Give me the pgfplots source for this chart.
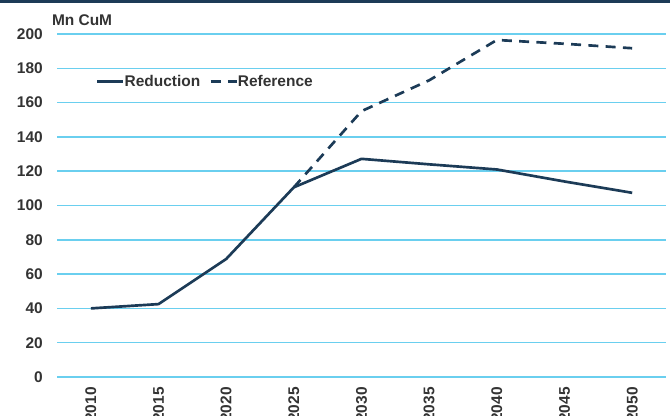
\documentclass[border=0pt]{standalone}
\usepackage{fontspec}
\setmainfont{Liberation Sans}
\usepackage{pgfplots}
\pgfplotsset{compat=1.18}
\definecolor{navy}{HTML}{1C3B57}
\definecolor{gridcyan}{HTML}{6ACFEF}
\definecolor{txt}{HTML}{333333}

\begin{document}
\begin{tikzpicture}
\useasboundingbox (0,0) rectangle (502.5pt,312pt);
\fill[navy] (0,309.75pt) rectangle (502.5pt,312pt);
\node[anchor=west,inner sep=0pt,text=txt,font=\fontsize{11.6}{13.9}\selectfont\bfseries]
 at (38.8pt,297pt) {Mn CuM};
\begin{axis}[scale only axis,width=456.75pt,height=257.25pt,
 at={(42.75pt,29.25pt)},anchor=south west,
 xmin=2007.5,xmax=2052.5,ymin=0,ymax=200,
 xtick={2010,2015,...,2050},ytick={0,20,...,200},
 axis line style={draw=none},major tick length=0pt,
 ymajorgrids,grid style={gridcyan,line width=1.1pt},
 /pgf/number format/assume math mode=true,
 /pgf/number format/1000 sep={},
 tick label style={font=\fontsize{11.6}{13.9}\selectfont\bfseries,text=txt,inner sep=0pt},
 xticklabel style={rotate=90,anchor=east},
 xticklabel shift=7.5pt,yticklabel shift=10.5pt,
 legend columns=2,
 legend style={draw=none,fill=none,inner sep=0pt,outer sep=0pt,
  at={(0.064,0.861)},anchor=west,
  font=\fontsize{11.6}{13.9}\selectfont\bfseries,text=txt,
  nodes={inner sep=0pt},
  /tikz/every even column/.append style={column sep=6.75pt}},
 legend image code/.code={\draw[#1] (0pt,0pt) -- (19.5pt,0pt);},
 every axis plot/.append style={line width=2pt,line join=round}]
\addplot[navy,no marks] coordinates {(2010,40) (2015,42.5) (2020,68.8) (2025,110.6)
 (2030,127.2) (2035,124) (2040,121) (2045,114) (2050,107.4)};
\addlegendentry{Reduction}
\addplot[navy,no marks,dash pattern=on 7.5pt off 5.5pt] coordinates {(2025,110.6)
 (2030,155) (2035,173) (2040,196.5) (2045,194.3) (2050,191.7)};
\addlegendentry{Reference}
\end{axis}
\end{tikzpicture}
\end{document}
